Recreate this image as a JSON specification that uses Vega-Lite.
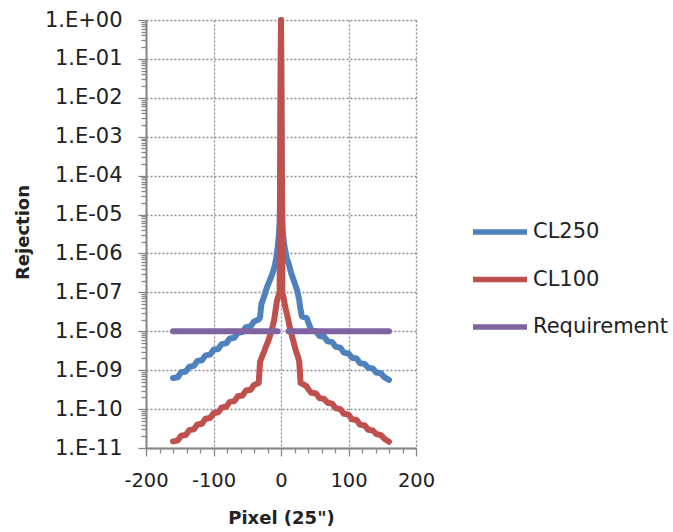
{
  "$schema": "https://vega.github.io/schema/vega-lite/v6.json",
  "width": 270,
  "height": 428,
  "autosize": {"type": "none"},
  "padding": {"left": 146, "top": 20, "right": 257, "bottom": 84},
  "background": "white",
  "config": {"view": {"stroke": null}, "font": "DejaVu Sans"},
  "data": {"values": [
    {"s":"CL250","g":"a","x":-160,"y":6.31e-10},{"s":"CL250","g":"a","x":-153,"y":6.61e-10},{"s":"CL250","g":"a","x":-148,"y":8.81e-10},{"s":"CL250","g":"a","x":-141,"y":9.23e-10},
    {"s":"CL250","g":"a","x":-136,"y":1.23e-9},{"s":"CL250","g":"a","x":-129,"y":1.29e-9},{"s":"CL250","g":"a","x":-124,"y":1.72e-9},{"s":"CL250","g":"a","x":-117,"y":1.80e-9},
    {"s":"CL250","g":"a","x":-112,"y":2.40e-9},{"s":"CL250","g":"a","x":-105,"y":2.51e-9},{"s":"CL250","g":"a","x":-100,"y":3.35e-9},{"s":"CL250","g":"a","x":-93,"y":3.51e-9},
    {"s":"CL250","g":"a","x":-88,"y":4.68e-9},{"s":"CL250","g":"a","x":-81,"y":4.90e-9},{"s":"CL250","g":"a","x":-76,"y":6.53e-9},{"s":"CL250","g":"a","x":-69,"y":6.84e-9},
    {"s":"CL250","g":"a","x":-64,"y":9.12e-9},{"s":"CL250","g":"a","x":-57,"y":9.55e-9},{"s":"CL250","g":"a","x":-52,"y":1.27e-8},{"s":"CL250","g":"a","x":-45,"y":1.33e-8},
    {"s":"CL250","g":"a","x":-40,"y":1.78e-8},{"s":"CL250","g":"a","x":-33,"y":2.0e-8},{"s":"CL250","g":"a","x":-31,"y":2.29e-8},{"s":"CL250","g":"a","x":-30,"y":3.55e-8},
    {"s":"CL250","g":"a","x":-29,"y":5.0e-8},{"s":"CL250","g":"a","x":-27,"y":6.3e-8},{"s":"CL250","g":"a","x":-24,"y":8.9e-8},{"s":"CL250","g":"a","x":-21,"y":1.32e-7},
    {"s":"CL250","g":"a","x":-18,"y":1.78e-7},{"s":"CL250","g":"a","x":-15,"y":2.4e-7},{"s":"CL250","g":"a","x":-12,"y":3.3e-7},{"s":"CL250","g":"a","x":-9,"y":5.0e-7},
    {"s":"CL250","g":"a","x":-7,"y":7.9e-7},{"s":"CL250","g":"a","x":-5,"y":1.41e-6},{"s":"CL250","g":"a","x":-3,"y":3.16e-6},{"s":"CL250","g":"a","x":-2,"y":6.3e-6},
    {"s":"CL250","g":"a","x":-1,"y":1e-4},{"s":"CL250","g":"a","x":0,"y":1},
    {"s":"CL250","g":"a","x":1,"y":1e-4},{"s":"CL250","g":"a","x":2,"y":6.3e-6},{"s":"CL250","g":"a","x":3,"y":3.16e-6},{"s":"CL250","g":"a","x":5,"y":1.58e-6},
    {"s":"CL250","g":"a","x":7,"y":1e-6},{"s":"CL250","g":"a","x":9,"y":7.08e-7},{"s":"CL250","g":"a","x":12,"y":5.0e-7},{"s":"CL250","g":"a","x":15,"y":3.16e-7},
    {"s":"CL250","g":"a","x":18,"y":2.24e-7},{"s":"CL250","g":"a","x":21,"y":1.58e-7},{"s":"CL250","g":"a","x":24,"y":1.12e-7},{"s":"CL250","g":"a","x":27,"y":6.3e-8},
    {"s":"CL250","g":"a","x":29,"y":3.55e-8},{"s":"CL250","g":"a","x":31,"y":2.4e-8},{"s":"CL250","g":"a","x":38,"y":2.19e-8},{"s":"CL250","g":"a","x":41,"y":1.58e-8},
    {"s":"CL250","g":"a","x":45,"y":1.05e-8},{"s":"CL250","g":"a","x":52,"y":1.0e-8},{"s":"CL250","g":"a","x":57,"y":7.59e-9},{"s":"CL250","g":"a","x":64,"y":7.24e-9},
    {"s":"CL250","g":"a","x":69,"y":5.5e-9},{"s":"CL250","g":"a","x":76,"y":5.25e-9},{"s":"CL250","g":"a","x":81,"y":3.98e-9},{"s":"CL250","g":"a","x":88,"y":3.8e-9},
    {"s":"CL250","g":"a","x":93,"y":2.82e-9},{"s":"CL250","g":"a","x":100,"y":2.69e-9},{"s":"CL250","g":"a","x":105,"y":2.09e-9},{"s":"CL250","g":"a","x":112,"y":2.0e-9},
    {"s":"CL250","g":"a","x":117,"y":1.51e-9},{"s":"CL250","g":"a","x":124,"y":1.45e-9},{"s":"CL250","g":"a","x":129,"y":1.15e-9},{"s":"CL250","g":"a","x":136,"y":1.1e-9},
    {"s":"CL250","g":"a","x":141,"y":8.71e-10},{"s":"CL250","g":"a","x":148,"y":8.32e-10},{"s":"CL250","g":"a","x":153,"y":6.61e-10},{"s":"CL250","g":"a","x":160,"y":5.62e-10},

    {"s":"CL100","g":"a","x":-160,"y":1.48e-11},{"s":"CL100","g":"a","x":-153,"y":1.55e-11},{"s":"CL100","g":"a","x":-148,"y":2.07e-11},{"s":"CL100","g":"a","x":-141,"y":2.16e-11},
    {"s":"CL100","g":"a","x":-136,"y":2.88e-11},{"s":"CL100","g":"a","x":-129,"y":3.02e-11},{"s":"CL100","g":"a","x":-124,"y":4.03e-11},{"s":"CL100","g":"a","x":-117,"y":4.22e-11},
    {"s":"CL100","g":"a","x":-112,"y":5.62e-11},{"s":"CL100","g":"a","x":-105,"y":5.89e-11},{"s":"CL100","g":"a","x":-100,"y":7.85e-11},{"s":"CL100","g":"a","x":-93,"y":8.22e-11},
    {"s":"CL100","g":"a","x":-88,"y":1.10e-10},{"s":"CL100","g":"a","x":-81,"y":1.15e-10},{"s":"CL100","g":"a","x":-76,"y":1.53e-10},{"s":"CL100","g":"a","x":-69,"y":1.60e-10},
    {"s":"CL100","g":"a","x":-64,"y":2.14e-10},{"s":"CL100","g":"a","x":-57,"y":2.24e-10},{"s":"CL100","g":"a","x":-52,"y":2.99e-10},{"s":"CL100","g":"a","x":-45,"y":3.13e-10},
    {"s":"CL100","g":"a","x":-40,"y":4.17e-10},{"s":"CL100","g":"a","x":-33,"y":4.68e-10},{"s":"CL100","g":"a","x":-32,"y":8.9e-10},{"s":"CL100","g":"a","x":-31,"y":1.66e-9},
    {"s":"CL100","g":"a","x":-28,"y":2.24e-9},{"s":"CL100","g":"a","x":-25,"y":3.02e-9},{"s":"CL100","g":"a","x":-22,"y":4.17e-9},{"s":"CL100","g":"a","x":-19,"y":5.62e-9},
    {"s":"CL100","g":"a","x":-16,"y":7.94e-9},{"s":"CL100","g":"a","x":-13,"y":1.2e-8},{"s":"CL100","g":"a","x":-10,"y":2.0e-8},{"s":"CL100","g":"a","x":-8,"y":3.55e-8},
    {"s":"CL100","g":"a","x":-6,"y":6.03e-8},{"s":"CL100","g":"a","x":-4,"y":7.94e-8},{"s":"CL100","g":"a","x":-2,"y":1e-7},{"s":"CL100","g":"a","x":-1,"y":1e-3},
    {"s":"CL100","g":"a","x":0,"y":1},
    {"s":"CL100","g":"a","x":1,"y":1e-3},{"s":"CL100","g":"a","x":2,"y":1e-7},{"s":"CL100","g":"a","x":4,"y":7.08e-8},{"s":"CL100","g":"a","x":6,"y":4.47e-8},
    {"s":"CL100","g":"a","x":8,"y":3.16e-8},{"s":"CL100","g":"a","x":10,"y":2.24e-8},{"s":"CL100","g":"a","x":13,"y":1.26e-8},{"s":"CL100","g":"a","x":16,"y":7.94e-9},
    {"s":"CL100","g":"a","x":19,"y":5.0e-9},{"s":"CL100","g":"a","x":22,"y":3.16e-9},{"s":"CL100","g":"a","x":25,"y":2.24e-9},{"s":"CL100","g":"a","x":27,"y":1.66e-9},
    {"s":"CL100","g":"a","x":28,"y":8.9e-10},{"s":"CL100","g":"a","x":29,"y":4.68e-10},{"s":"CL100","g":"a","x":33,"y":4.37e-10},{"s":"CL100","g":"a","x":38,"y":3.8e-10},
    {"s":"CL100","g":"a","x":41,"y":3.16e-10},{"s":"CL100","g":"a","x":45,"y":2.63e-10},{"s":"CL100","g":"a","x":52,"y":2.51e-10},{"s":"CL100","g":"a","x":57,"y":1.91e-10},
    {"s":"CL100","g":"a","x":64,"y":1.82e-10},{"s":"CL100","g":"a","x":69,"y":1.45e-10},{"s":"CL100","g":"a","x":76,"y":1.38e-10},{"s":"CL100","g":"a","x":81,"y":1.05e-10},
    {"s":"CL100","g":"a","x":88,"y":1.0e-10},{"s":"CL100","g":"a","x":93,"y":7.59e-11},{"s":"CL100","g":"a","x":100,"y":7.24e-11},{"s":"CL100","g":"a","x":105,"y":5.5e-11},
    {"s":"CL100","g":"a","x":112,"y":5.25e-11},{"s":"CL100","g":"a","x":117,"y":3.98e-11},{"s":"CL100","g":"a","x":124,"y":3.8e-11},{"s":"CL100","g":"a","x":129,"y":2.95e-11},
    {"s":"CL100","g":"a","x":136,"y":2.82e-11},{"s":"CL100","g":"a","x":141,"y":2.29e-11},{"s":"CL100","g":"a","x":148,"y":2.14e-11},{"s":"CL100","g":"a","x":153,"y":1.74e-11},
    {"s":"CL100","g":"a","x":160,"y":1.45e-11},

    {"s":"Requirement","g":"a","x":-160,"y":1e-8},{"s":"Requirement","g":"a","x":-5,"y":1e-8},
    {"s":"Requirement","g":"b","x":11,"y":1e-8},{"s":"Requirement","g":"b","x":160,"y":1e-8}
  ]},
  "mark": {"type": "line", "strokeWidth": 6, "strokeCap": "round", "strokeJoin": "round"},
  "encoding": {
    "x": {
      "field": "x", "type": "quantitative",
      "scale": {"domain": [-200, 200], "nice": false, "zero": false},
      "axis": {
        "values": [-200,-180,-160,-140,-120,-100,-80,-60,-40,-20,0,20,40,60,80,100,120,140,160,180,200],
        "labelExpr": "datum.value % 100 == 0 ? '' + datum.value : ''",
        "labelFontSize": 19.5, "labelColor": "#222", "labelPadding": 15, "labelOverlap": false, "labelFlush": false,
        "tickSize": {"condition": {"test": "datum.value % 100 == 0", "value": 8}, "value": 5},
        "tickColor": "#868686", "tickWidth": 1.3,
        "domainColor": "#868686", "domainWidth": 2,
        "grid": true,
        "gridOpacity": {"condition": {"test": "datum.value % 100 == 0", "value": 1}, "value": 0},
        "gridDash": [2, 2], "gridColor": "#8c8c8c", "gridWidth": 1.3,
        "title": "Pixel (25\")", "titleFontSize": 18, "titleFontWeight": "bold", "titleColor": "#222",
        "titleX": 135, "titleY": 75, "titleBaseline": "alphabetic", "titleAlign": "center"
      }
    },
    "y": {
      "field": "y", "type": "quantitative",
      "scale": {"type": "log", "domain": [1e-11, 1], "nice": false},
      "axis": {
        "values": [1e-11,2e-11,3e-11,4e-11,5e-11,6e-11,7e-11,8e-11,9e-11,
                   1e-10,2e-10,3e-10,4e-10,5e-10,6e-10,7e-10,8e-10,9e-10,
                   1e-9,2e-9,3e-9,4e-9,5e-9,6e-9,7e-9,8e-9,9e-9,
                   1e-8,2e-8,3e-8,4e-8,5e-8,6e-8,7e-8,8e-8,9e-8,
                   1e-7,2e-7,3e-7,4e-7,5e-7,6e-7,7e-7,8e-7,9e-7,
                   1e-6,2e-6,3e-6,4e-6,5e-6,6e-6,7e-6,8e-6,9e-6,
                   1e-5,2e-5,3e-5,4e-5,5e-5,6e-5,7e-5,8e-5,9e-5,
                   1e-4,2e-4,3e-4,4e-4,5e-4,6e-4,7e-4,8e-4,9e-4,
                   1e-3,2e-3,3e-3,4e-3,5e-3,6e-3,7e-3,8e-3,9e-3,
                   1e-2,2e-2,3e-2,4e-2,5e-2,6e-2,7e-2,8e-2,9e-2,
                   0.1,0.2,0.3,0.4,0.5,0.6,0.7,0.8,0.9,1],
        "labelExpr": "(abs(log(datum.value)/LN10 - round(log(datum.value)/LN10)) < 0.001) ? ('1.E' + (round(log(datum.value)/LN10) >= 0 ? '+00' : ('-' + (round(log(datum.value)/LN10) > -10 ? '0' : '') + abs(round(log(datum.value)/LN10))))) : ''",
        "labelFontSize": 21, "labelColor": "#222", "labelPadding": 16, "labelOverlap": false, "labelFlush": false,
        "tickSize": {"condition": {"test": "abs(log(datum.value)/LN10 - round(log(datum.value)/LN10)) < 0.001", "value": 8}, "value": 5},
        "tickColor": "#868686", "tickWidth": 1.3,
        "domainColor": "#868686", "domainWidth": 2,
        "grid": true,
        "gridOpacity": {"condition": {"test": "abs(log(datum.value)/LN10 - round(log(datum.value)/LN10)) < 0.001", "value": 1}, "value": 0},
        "gridDash": [2, 2], "gridColor": "#8c8c8c", "gridWidth": 1.3,
        "title": "Rejection", "titleFontSize": 18, "titleFontWeight": "bold", "titleColor": "#222",
        "titleX": -118, "titleY": 212, "titleAngle": -90, "titleBaseline": "alphabetic", "titleAlign": "center"
      }
    },
    "color": {
      "field": "s", "type": "nominal",
      "scale": {"domain": ["CL250", "CL100", "Requirement"], "range": ["#4F81BD", "#C0504D", "#8064A2"]},
      "legend": {
        "orient": "none", "legendX": 324, "legendY": 182, "title": null, "padding": 0,
        "symbolType": "stroke", "symbolSize": 2916, "symbolStrokeWidth": 5.5,
        "labelFontSize": 21, "labelColor": "#222", "labelOffset": 3, "rowPadding": 6.5
      }
    },
    "detail": {"field": "g"}
  }
}
